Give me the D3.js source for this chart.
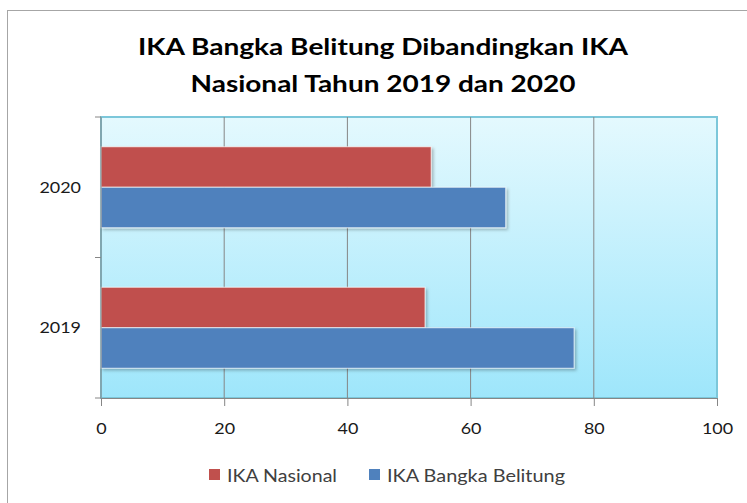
<!DOCTYPE html>
<html>
<head>
<meta charset="utf-8">
<script src="https://cdn.jsdelivr.net/npm/d3@7"></script>
<style>
  body { margin: 0; background: #fff; }
  svg { display: block; font-family: Lato, "Open Sans", sans-serif; }
</style>
</head>
<body>
<svg width="747" height="503"></svg>
<script>
const years = ["2020", "2019"];
const seriesNames = ["IKA Nasional", "IKA Bangka Belitung"];
const ikaNasional = [53.6, 52.6];
const ikaBabel = [65.7, 76.8];
const xTicks = [0, 20, 40, 60, 80, 100];
const colors = ["#c0504d", "#4f81bd"];

// the source picture is stretched sideways, so text is widened to match
const digitW = 10.4;

const svg = d3.select("svg");
const margin = { top: 117, right: 30, bottom: 105, left: 101 };
const width = 747 - margin.left - margin.right,
      height = 503 - margin.top - margin.bottom;

// chart frame
svg.append("rect")
  .attr("x", 7.5).attr("y", 10.5)
  .attr("width", 760).attr("height", 520)
  .attr("fill", "#fff")
  .attr("stroke", "#a6a6a6");

const defs = svg.append("defs");
const grad = defs.append("linearGradient")
  .attr("id", "bg").attr("x1", 0).attr("y1", 0).attr("x2", 0).attr("y2", 1);
grad.append("stop").attr("offset", "0%").attr("stop-color", "#e4f9fe");
grad.append("stop").attr("offset", "100%").attr("stop-color", "#9ee6fb");

const shadow = defs.append("filter").attr("id", "shadow")
  .attr("x", "-5%").attr("y", "-20%").attr("width", "115%").attr("height", "150%");
shadow.append("feDropShadow")
  .attr("dx", 2).attr("dy", 2).attr("stdDeviation", 1.5)
  .attr("flood-color", "#000").attr("flood-opacity", 0.25);

const chart = svg.append("g")
  .attr("transform", `translate(${margin.left},${margin.top})`);

const x = d3.scaleLinear().domain([0, 100]).range([0, width]);
const y = d3.scaleBand().domain(years).range([0, height]).padding(0);
const ySub = d3.scaleBand().domain(seriesNames).range([0, y.bandwidth()])
  .paddingInner(0).paddingOuter(0.735);

chart.append("rect")
  .attr("width", width).attr("height", height)
  .attr("fill", "url(#bg)")
  .attr("stroke", "#7cc7da").attr("stroke-width", 2);

// gridlines
chart.selectAll("line.grid")
  .data(xTicks.slice(1, -1))
  .enter()
  .append("line")
  .attr("class", "grid")
  .attr("x1", d => x(d)).attr("x2", d => x(d))
  .attr("y1", 0).attr("y2", height)
  .attr("stroke", "#868686");

const data = years.map((yr, i) => ({
  year: yr,
  values: [
    { name: seriesNames[0], value: ikaNasional[i] },
    { name: seriesNames[1], value: ikaBabel[i] }
  ]
}));

const groups = chart.selectAll("g.year")
  .data(data)
  .enter()
  .append("g")
  .attr("class", "year")
  .attr("transform", d => `translate(0,${y(d.year)})`);

groups.selectAll("rect")
  .data(d => d.values)
  .enter()
  .append("rect")
  .attr("x", 0)
  .attr("y", d => ySub(d.name))
  .attr("width", d => x(d.value))
  .attr("height", ySub.bandwidth())
  .attr("fill", (d, i) => colors[i])
  .attr("stroke", "rgba(255,255,255,0.7)")
  .attr("filter", "url(#shadow)");

// axes
const xAxis = chart.append("g")
  .attr("transform", `translate(0,${height})`)
  .call(d3.axisBottom(x).tickValues(xTicks).tickSize(8).tickPadding(23));
xAxis.attr("font-family", null).attr("font-size", null);
xAxis.select(".domain").attr("stroke", "#868686");
xAxis.selectAll(".tick line").attr("stroke", "#868686");
xAxis.selectAll(".tick text")
  .attr("font-size", 15.5)
  .attr("fill", "#1a1a1a")
  .attr("dy", "0.32em")
  .attr("textLength", d => String(d).length * digitW)
  .attr("lengthAdjust", "spacingAndGlyphs");

const yAxis = chart.append("g")
  .call(d3.axisLeft(y).tickSize(0).tickPadding(20));
yAxis.attr("font-family", null).attr("font-size", null);
yAxis.select(".domain").attr("stroke", "#868686").attr("d", `M0,0V${height}`);
yAxis.selectAll(".tick text")
  .attr("font-size", 15.5)
  .attr("fill", "#1a1a1a")
  .attr("dy", "0.36em")
  .attr("textLength", d => d.length * digitW)
  .attr("lengthAdjust", "spacingAndGlyphs");

// category boundary ticks on y axis
chart.selectAll("line.ytick")
  .data([0, height / 2, height])
  .enter()
  .append("line")
  .attr("x1", -6).attr("x2", 0)
  .attr("y1", d => d).attr("y2", d => d)
  .attr("stroke", "#868686");

// title
const titleLines = ["IKA Bangka Belitung Dibandingkan IKA", "Nasional Tahun 2019 dan 2020"];
const titleLen = [490, 385];
const titleY = [55, 92];
svg.selectAll("text.title")
  .data(titleLines)
  .enter()
  .append("text")
  .attr("class", "title")
  .attr("text-anchor", "middle")
  .attr("x", 383)
  .attr("y", (d, i) => titleY[i])
  .attr("font-weight", "bold")
  .attr("font-size", 23.5)
  .attr("fill", "#000")
  .attr("textLength", (d, i) => titleLen[i])
  .attr("lengthAdjust", "spacingAndGlyphs")
  .text(d => d);

// legend
const legendX = [209, 369];
const legendLen = [110, 178];
const legend = svg.selectAll("g.legend")
  .data(seriesNames)
  .enter()
  .append("g")
  .attr("class", "legend")
  .attr("transform", (d, i) => `translate(${legendX[i]},469)`);
legend.append("rect")
  .attr("width", 11).attr("height", 11)
  .attr("fill", (d, i) => colors[i]);
legend.append("text")
  .attr("x", 18).attr("y", 12.5)
  .attr("font-size", 16.5)
  .attr("fill", "#404040")
  .attr("textLength", (d, i) => legendLen[i])
  .attr("lengthAdjust", "spacingAndGlyphs")
  .text(d => d);
</script>
</body>
</html>
